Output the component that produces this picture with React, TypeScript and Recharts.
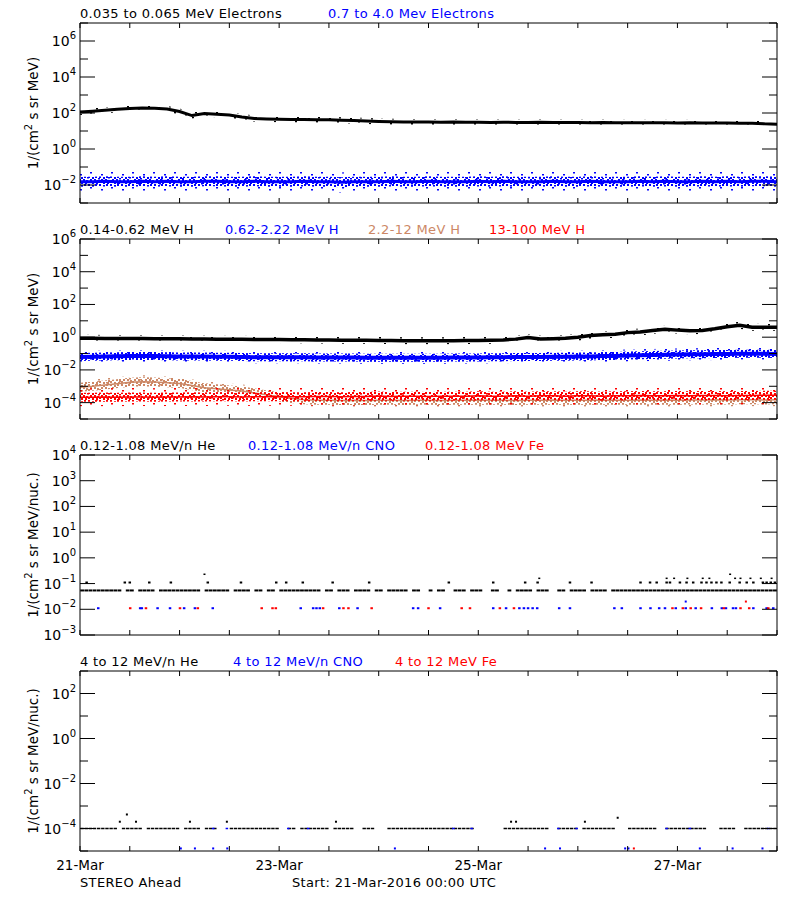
import React from 'react';
import { ComposedChart, Line, Scatter, XAxis, YAxis } from 'recharts';

// ─── Time grid (hours since 21-Mar-2016 00:00 UTC) ───────────────────────────

const HOURS = [
  0, 3, 6, 9, 12, 15, 18, 21, 24, 27,
  30, 33, 36, 39, 42, 45, 48, 51, 54, 57,
  60, 63, 66, 69, 72, 75, 78, 81, 84, 87,
  90, 93, 96, 99, 102, 105, 108, 111, 114, 117,
  120, 123, 126, 129, 132, 135, 138, 141, 144, 147,
  150, 153, 156, 159, 162, 165, 168,
];
const X_TICKS = [0, 12, 24, 36, 48, 60, 72, 84, 96, 108, 120, 132, 144, 156, 168];
const DATE_TICKS = [0, 48, 96, 144];
const DATE_LABELS = ['21-Mar', '23-Mar', '25-Mar', '27-Mar'];

// ─── Panel 1: electrons ───────────────────────────────────────────────────────

const E_LOW = [
  114, 125, 140, 160, 180, 188, 182, 166, 120, 72,
  95, 86, 78, 60, 50, 47, 45, 44, 43, 42,
  42, 40, 38, 36, 34, 33, 32, 32, 32, 31,
  32, 31, 31, 30, 31, 30, 30, 31, 30, 30,
  30, 29, 30, 29, 29, 29, 29, 29, 28, 29,
  28, 28, 28, 27, 27, 25, 24,
];
const E_HIGH = [
  0.015, 0.015, 0.016, 0.015, 0.015, 0.016, 0.015, 0.016, 0.015, 0.015,
  0.016, 0.016, 0.015, 0.015, 0.016, 0.015, 0.015, 0.015, 0.016, 0.015,
  0.015, 0.014, 0.015, 0.015, 0.015, 0.016, 0.015, 0.015, 0.016, 0.015,
  0.015, 0.015, 0.016, 0.015, 0.016, 0.015, 0.015, 0.015, 0.016, 0.015,
  0.015, 0.016, 0.015, 0.015, 0.015, 0.016, 0.015, 0.016, 0.015, 0.015,
  0.016, 0.015, 0.016, 0.015, 0.016, 0.016, 0.015,
];

// ─── Panel 2: protons ─────────────────────────────────────────────────────────

const H_LOW = [
  0.85, 0.85, 0.84, 0.83, 0.83, 0.82, 0.81, 0.8, 0.79, 0.78,
  0.77, 0.76, 0.75, 0.74, 0.73, 0.72, 0.71, 0.7, 0.69, 0.68,
  0.67, 0.66, 0.65, 0.64, 0.63, 0.62, 0.61, 0.61, 0.6, 0.6,
  0.61, 0.62, 0.63, 0.65, 0.68, 0.76, 0.95, 0.78, 0.8, 0.85,
  0.98, 1.25, 1.4, 1.5, 1.9, 2.1, 2.6, 3.1, 2.7, 2.5,
  2.6, 3.3, 4.4, 5.4, 4.1, 4.0, 4.0,
];
const H_MID = [
  0.062, 0.064, 0.066, 0.068, 0.07, 0.07, 0.07, 0.068, 0.066, 0.066,
  0.065, 0.064, 0.063, 0.062, 0.06, 0.06, 0.06, 0.06, 0.059, 0.058,
  0.058, 0.058, 0.057, 0.056, 0.056, 0.056, 0.055, 0.055, 0.056, 0.056,
  0.057, 0.058, 0.058, 0.06, 0.06, 0.061, 0.062, 0.062, 0.063, 0.064,
  0.066, 0.067, 0.07, 0.072, 0.075, 0.078, 0.082, 0.085, 0.088, 0.09,
  0.092, 0.094, 0.095, 0.096, 0.096, 0.096, 0.095,
];
const H_TAN = [
  8.7e-4, 1.0e-3, 1.2e-3, 1.45e-3, 1.75e-3, 1.9e-3, 1.8e-3, 1.65e-3, 1.5e-3, 1.1e-3,
  8.0e-4, 7.0e-4, 6.0e-4, 5.2e-4, 3.9e-4, 3.0e-4, 2.3e-4, 1.8e-4, 1.5e-4, 1.4e-4,
  1.4e-4, 1.35e-4, 1.4e-4, 1.35e-4, 1.4e-4, 1.4e-4, 1.35e-4, 1.4e-4, 1.4e-4, 1.35e-4,
  1.4e-4, 1.4e-4, 1.45e-4, 1.4e-4, 1.4e-4, 1.35e-4, 1.4e-4, 1.4e-4, 1.45e-4, 1.4e-4,
  1.4e-4, 1.4e-4, 1.45e-4, 1.4e-4, 1.4e-4, 1.45e-4, 1.4e-4, 1.45e-4, 1.4e-4, 1.45e-4,
  1.45e-4, 1.5e-4, 1.45e-4, 1.5e-4, 1.5e-4, 1.45e-4, 1.5e-4,
];
const H_RED = [
  2.1e-4, 2.1e-4, 2.2e-4, 2.1e-4, 2.2e-4, 2.2e-4, 2.1e-4, 2.2e-4, 2.2e-4, 2.3e-4,
  2.2e-4, 2.3e-4, 2.3e-4, 2.2e-4, 2.3e-4, 2.3e-4, 2.4e-4, 2.3e-4, 2.3e-4, 2.4e-4,
  2.4e-4, 2.3e-4, 2.4e-4, 2.4e-4, 2.5e-4, 2.4e-4, 2.5e-4, 2.5e-4, 2.4e-4, 2.5e-4,
  2.5e-4, 2.5e-4, 2.6e-4, 2.5e-4, 2.5e-4, 2.6e-4, 2.5e-4, 2.6e-4, 2.6e-4, 2.5e-4,
  2.6e-4, 2.6e-4, 2.5e-4, 2.6e-4, 2.6e-4, 2.7e-4, 2.6e-4, 2.6e-4, 2.7e-4, 2.6e-4,
  2.7e-4, 2.7e-4, 2.6e-4, 2.7e-4, 2.7e-4, 2.8e-4, 2.8e-4,
];

// ─── Panel 3: 0.12-1.08 MeV/n heavy ions (sparse counts) ─────────────────────

const HE3_BASE = 0.054;
const HE3_BASE_GAPS = [10, 13, 18, 29, 36, 41, 44, 47, 58, 61, 65, 70, 73, 79, 82, 83, 85, 88, 89, 93, 97, 98, 101, 102, 104, 109, 113, 114, 117, 122, 127];
const HE3_ONE = 0.11;
const HE3_ONE_HOURS = [1.6, 10.8, 12.0, 16.7, 21.9, 30.8, 38.8, 47.3, 49.7, 53.7, 60.9, 69.7, 88.9, 99.6, 107.3, 110.3, 118.1, 123.3, 135.1, 137.4, 139, 141.4, 142.2, 144.6, 146.2, 147.8, 149.8, 151, 152.2, 153.4, 154.6, 156.6, 159, 160.7, 162.3, 164.6, 165.5, 166.5, 167.5];
const HE3_TWO = 0.16;
const HE3_TWO_HOURS = [110.7, 141.4, 143.2, 146.4, 150.1, 151.7, 157.9, 159.2, 161.6, 164.1, 166.7];
const HE3_THREE = 0.23;
const HE3_THREE_HOURS = [30, 156.7];
const CNO3 = 0.011;
const CNO3_HOURS = [4.4, 14.5, 14.9, 18.7, 21.7, 25.1, 27.7, 32, 53.2, 56.2, 57, 57.8, 62.5, 66.9, 80.3, 81.5, 86.8, 99.6, 102.7, 105.9, 107.0, 108.0, 109.1, 110.2, 115.5, 118.1, 128.8, 130.6, 135.1, 137.5, 139.6, 141.0, 143.6, 146.0, 148.4, 152.3, 154.7, 155.7, 157.4, 158.1, 162.3, 165.5, 167.1];
const CNO3_TWO = 0.02;
const CNO3_TWO_HOURS = [146];
const FE3 = 0.011;
const FE3_HOURS = [12.1, 15.9, 24.1, 28.4, 43.8, 46.4, 47.2, 58.6, 63.5, 64.7, 70.3, 84, 92, 94, 101.2, 104.6, 142.8, 145.3, 147.2, 149.7, 155.2, 159.2, 161.3, 165.9];
const FE3_TWO = 0.02;
const FE3_TWO_HOURS = [160.5];

// ─── Panel 4: 4-12 MeV/n heavy ions ───────────────────────────────────────────

const HE4_BASE = 1e-4;
const HE4_BASE_GAPS = [9, 15, 24, 29, 33, 34, 35, 48, 49, 52, 60, 66, 67, 71, 72, 73, 95, 96, 97, 98, 99, 100, 101, 113, 114, 120, 129, 130, 131, 139, 140, 151, 152, 153, 158, 159];
const HE4_TWO = 2e-4;
const HE4_TWO_HOURS = [9.6, 13.5, 26.5, 35.4, 61.7, 103.9, 105.1, 121.7];
const HE4_THREE = 3e-4;
const HE4_THREE_HOURS = [129.6];
const HE4_FOUR = 4.2e-4;
const HE4_FOUR_HOURS = [11.3];
const CNO4_LOW = 1.3e-5;
const CNO4_LOW_HOURS = [24.3, 27.7, 32.1, 35.5, 75.9, 112.1, 115.7, 131.4, 132.2, 149.4, 157.3, 164.5];
const CNO4_BASE = 1e-4;
const CNO4_BASE_HOURS = [32.1, 35.4, 50.2, 55.0, 90, 94.4, 115.3, 119.7, 141.4, 147, 165.9];
const FE4_LOW = 1.3e-5;
const FE4_LOW_HOURS = [133.5];

// ─── Styling ──────────────────────────────────────────────────────────────────

const FONT = 'DejaVu Sans';
const BLACK = '#000000';
const BLUE = '#0000ff';
const TAN = '#cc8866';
const RED = '#ff0000';
const COLORS: Record<string, string> = { black: BLACK, blue: BLUE, tan: TAN, red: RED };

const DENSE_DOTS = [[0, 0], [4, 1], [7, 0], [2, 3], [6, 3], [9, 4], [0, 5], [4, 6], [8, 6]];
const SPARSE_DOTS = [[1, 1], [12, 3], [6, 7], [17, 9], [3, 12], [14, 13]];

// ─── Helpers ──────────────────────────────────────────────────────────────────

type Pt = { h: number; v: number };

function series(values: number[]): Pt[] {
  return HOURS.map((h, i) => ({ h, v: values[i] }));
}

function level(hours: number[], v: number): Pt[] {
  return hours.map((h) => ({ h, v }));
}

function hourly(gaps: number[], v: number): Pt[] {
  const out: Pt[] = [];
  for (let h = 0; h < 168; h++) {
    if (!gaps.includes(h)) out.push({ h: h + 0.5, v });
  }
  return out;
}

function dash(color: string, w: number, hgt: number) {
  return (props: any) =>
    props.cx == null ? <g /> : (
      <rect x={props.cx - w / 2} y={props.cy - hgt / 2} width={w} height={hgt} fill={color} />
    );
}

function decades(lo: number, hi: number): number[] {
  const out: number[] = [];
  for (let e = lo; e <= hi; e++) out.push(Math.pow(10, e));
  return out;
}

// ─── Ticks ────────────────────────────────────────────────────────────────────

function LeftTick(props: any) {
  const { x, y, payload, labeled } = props;
  const exp = Math.round(Math.log10(payload.value));
  const major = labeled.includes(exp);
  return (
    <g>
      <line x1={x} x2={x + (major ? 15 : 8)} y1={y} y2={y} stroke={BLACK} />
      {major && (
        <text x={x - 4} y={y + 5} textAnchor="end" fontFamily={FONT} fontSize={14} fill={BLACK}>
          10
          <tspan dy={-7} fontSize={10}>{exp < 0 ? `\u2212${-exp}` : `${exp}`}</tspan>
        </text>
      )}
    </g>
  );
}

function RightTick(props: any) {
  const { x, y, payload, labeled } = props;
  const exp = Math.round(Math.log10(payload.value));
  const major = labeled.includes(exp);
  return <line x1={x} x2={x - (major ? 15 : 8)} y1={y} y2={y} stroke={BLACK} />;
}

function BottomTick(props: any) {
  const { x, y, payload, dates } = props;
  const idx = DATE_TICKS.indexOf(payload.value);
  return (
    <g>
      <line x1={x} x2={x} y1={y} y2={y - 5} stroke={BLACK} />
      {dates && idx >= 0 && (
        <text x={x} y={y + 19} textAnchor="middle" fontFamily={FONT} fontSize={13.5} fill={BLACK}>
          {DATE_LABELS[idx]}
        </text>
      )}
    </g>
  );
}

function TopTick(props: any) {
  const { x, y } = props;
  return <line x1={x} x2={x} y1={y} y2={y + 5} stroke={BLACK} />;
}

// ─── Panel frame ──────────────────────────────────────────────────────────────

interface Title {
  text: string;
  x: number;
  color: string;
}

interface PanelProps {
  top: number;
  height: number;
  expLo: number;
  expHi: number;
  labeled: number[];
  titles: Title[];
  unit: string;
  dates?: boolean;
  children: React.ReactNode;
}

function Panel({ top, height, expLo, expHi, labeled, titles, unit, dates, children }: PanelProps) {
  const domain: [number, number] = [Math.pow(10, expLo), Math.pow(10, expHi)];
  const ticks = decades(expLo, expHi);
  return (
    <div style={{ position: 'absolute', left: 0, top, width: 800, height }}>
      <ComposedChart
        width={800}
        height={height}
        margin={{ top: 13, left: 20, right: 13, bottom: height - 213 }}
      >
        <XAxis
          xAxisId="b"
          type="number"
          dataKey="h"
          domain={[0, 168]}
          ticks={X_TICKS}
          interval={0}
          allowDataOverflow
          height={10}
          tickSize={0}
          tickMargin={0}
          tickLine={false}
          axisLine={{ stroke: BLACK }}
          tick={(p: any) => <BottomTick {...p} dates={dates} />}
        />
        <XAxis
          xAxisId="t"
          orientation="top"
          type="number"
          dataKey="h"
          domain={[0, 168]}
          ticks={X_TICKS}
          interval={0}
          allowDataOverflow
          height={10}
          tickSize={0}
          tickMargin={0}
          tickLine={false}
          axisLine={{ stroke: BLACK }}
          tick={(p: any) => <TopTick {...p} />}
        />
        <YAxis
          yAxisId="l"
          scale="log"
          domain={domain}
          ticks={ticks}
          interval={0}
          allowDataOverflow
          width={60}
          tickSize={0}
          tickMargin={0}
          tickLine={false}
          axisLine={{ stroke: BLACK }}
          tick={(p: any) => <LeftTick {...p} labeled={labeled} />}
        />
        <YAxis
          yAxisId="r"
          orientation="right"
          scale="log"
          domain={domain}
          ticks={ticks}
          interval={0}
          allowDataOverflow
          width={10}
          tickSize={0}
          tickMargin={0}
          tickLine={false}
          axisLine={{ stroke: BLACK }}
          tick={(p: any) => <RightTick {...p} labeled={labeled} />}
        />
        {children}
        {titles.map((t) => (
          <text key={t.text} x={t.x} y={18} fontFamily={FONT} fontSize={13} letterSpacing={0.35} fill={t.color}>
            {t.text}
          </text>
        ))}
        <text
          x={38}
          y={113}
          transform="rotate(-90 38 113)"
          textAnchor="middle"
          fontFamily={FONT}
          fontSize={13.5}
          fill={BLACK}
        >
          1/(cm
          <tspan dy={-6} fontSize={10}>2</tspan>
          <tspan dy={6}>{` s sr ${unit})`}</tspan>
        </text>
        {dates && (
          <>
            <text x={80} y={239} fontFamily={FONT} fontSize={13} letterSpacing={0.35} fill={BLACK}>
              STEREO Ahead
            </text>
            <text x={292} y={239} fontFamily={FONT} fontSize={13} letterSpacing={0.35} fill={BLACK}>
              Start: 21-Mar-2016 00:00 UTC
            </text>
          </>
        )}
      </ComposedChart>
    </div>
  );
}

// ─── Series helpers ───────────────────────────────────────────────────────────

function Band({ data, color, core, dense, sparse }: { data: Pt[]; color: string; core: number; dense: number; sparse: number }) {
  return (
    <>
      {sparse > 0 && (
        <Line xAxisId="b" yAxisId="l" data={data} dataKey="v" stroke={`url(#spk-sparse-${color})`} strokeWidth={sparse}
          dot={false} activeDot={false} isAnimationActive={false} />
      )}
      {dense > 0 && (
        <Line xAxisId="b" yAxisId="l" data={data} dataKey="v" stroke={`url(#spk-dense-${color})`} strokeWidth={dense}
          dot={false} activeDot={false} isAnimationActive={false} />
      )}
      {core > 0 && (
        <Line xAxisId="b" yAxisId="l" data={data} dataKey="v" stroke={COLORS[color]} strokeWidth={core}
          dot={false} activeDot={false} isAnimationActive={false} />
      )}
    </>
  );
}

function Dots({ data, color, w, h }: { data: Pt[]; color: string; w: number; h: number }) {
  return (
    <Scatter xAxisId="b" yAxisId="l" data={data} dataKey="v" shape={dash(color, w, h)} isAnimationActive={false} />
  );
}

// ─── Patterns ─────────────────────────────────────────────────────────────────

function Patterns() {
  return (
    <svg width={0} height={0} style={{ position: 'absolute' }}>
      <defs>
        {Object.keys(COLORS).map((name) => (
          <React.Fragment key={name}>
            <pattern id={`spk-dense-${name}`} patternUnits="userSpaceOnUse" width={11} height={8}>
              {DENSE_DOTS.map(([px, py], i) => (
                <rect key={i} x={px} y={py} width={2} height={2} fill={COLORS[name]} />
              ))}
            </pattern>
            <pattern id={`spk-sparse-${name}`} patternUnits="userSpaceOnUse" width={21} height={15}>
              {SPARSE_DOTS.map(([px, py], i) => (
                <rect key={i} x={px} y={py} width={2} height={1.5} fill={COLORS[name]} />
              ))}
            </pattern>
          </React.Fragment>
        ))}
      </defs>
    </svg>
  );
}

// ─── Component ────────────────────────────────────────────────────────────────

export default function App(): React.ReactElement {
  return (
    <div style={{ position: 'absolute', left: 0, top: 0, width: 800, height: 900, background: '#ffffff' }}>
      <Patterns />

      <Panel
        top={0}
        height={216}
        expLo={-3}
        expHi={7}
        labeled={[6, 4, 2, 0, -2]}
        unit="MeV"
        titles={[
          { text: '0.035 to 0.065 MeV Electrons', x: 80, color: BLACK },
          { text: '0.7 to 4.0 Mev Electrons', x: 328, color: BLUE },
        ]}
      >
        <Band data={series(E_LOW)} color="black" core={3} dense={0} sparse={6} />
        <Band data={series(E_HIGH)} color="blue" core={3} dense={10} sparse={20} />
      </Panel>

      <Panel
        top={216}
        height={216}
        expLo={-5}
        expHi={6}
        labeled={[6, 4, 2, 0, -2, -4]}
        unit="MeV"
        titles={[
          { text: '0.14-0.62 MeV H', x: 80, color: BLACK },
          { text: '0.62-2.22 MeV H', x: 225, color: BLUE },
          { text: '2.2-12 MeV H', x: 368, color: TAN },
          { text: '13-100 MeV H', x: 489, color: RED },
        ]}
      >
        <Band data={series(H_LOW)} color="black" core={3.5} dense={0} sparse={7} />
        <Band data={series(H_MID)} color="blue" core={4} dense={8} sparse={12} />
        <Band data={series(H_TAN)} color="tan" core={1.5} dense={9} sparse={13} />
        <Band data={series(H_RED)} color="red" core={1.5} dense={9} sparse={18} />
      </Panel>

      <Panel
        top={432}
        height={216}
        expLo={-3}
        expHi={4}
        labeled={[4, 3, 2, 1, 0, -1, -2, -3]}
        unit="MeV/nuc."
        titles={[
          { text: '0.12-1.08 MeV/n He', x: 80, color: BLACK },
          { text: '0.12-1.08 MeV/n CNO', x: 248, color: BLUE },
          { text: '0.12-1.08 MeV Fe', x: 425, color: RED },
        ]}
      >
        <Dots data={hourly(HE3_BASE_GAPS, HE3_BASE)} color={BLACK} w={3.8} h={2} />
        <Dots data={level(HE3_ONE_HOURS, HE3_ONE)} color={BLACK} w={2.5} h={2} />
        <Dots data={level(HE3_TWO_HOURS, HE3_TWO)} color={BLACK} w={2} h={1.5} />
        <Dots data={level(HE3_THREE_HOURS, HE3_THREE)} color={BLACK} w={2} h={1.5} />
        <Dots data={level(CNO3_HOURS, CNO3)} color={BLUE} w={2.5} h={2} />
        <Dots data={level(CNO3_TWO_HOURS, CNO3_TWO)} color={BLUE} w={2} h={2} />
        <Dots data={level(FE3_HOURS, FE3)} color={RED} w={2.5} h={2} />
        <Dots data={level(FE3_TWO_HOURS, FE3_TWO)} color={RED} w={2} h={2} />
      </Panel>

      <Panel
        top={648}
        height={252}
        expLo={-5}
        expHi={3}
        labeled={[2, 0, -2, -4]}
        unit="MeV/nuc."
        dates
        titles={[
          { text: '4 to 12 MeV/n He', x: 80, color: BLACK },
          { text: '4 to 12 MeV/n CNO', x: 233, color: BLUE },
          { text: '4 to 12 MeV Fe', x: 395, color: RED },
        ]}
      >
        <Dots data={hourly(HE4_BASE_GAPS, HE4_BASE)} color={BLACK} w={3.4} h={1.5} />
        <Dots data={level(HE4_TWO_HOURS, HE4_TWO)} color={BLACK} w={2} h={2} />
        <Dots data={level(HE4_THREE_HOURS, HE4_THREE)} color={BLACK} w={2} h={2} />
        <Dots data={level(HE4_FOUR_HOURS, HE4_FOUR)} color={BLACK} w={2} h={2} />
        <Dots data={level(CNO4_BASE_HOURS, CNO4_BASE)} color={BLUE} w={2.5} h={1.5} />
        <Dots data={level(CNO4_LOW_HOURS, CNO4_LOW)} color={BLUE} w={2} h={2} />
        <Dots data={level(FE4_LOW_HOURS, FE4_LOW)} color={RED} w={2} h={2} />
      </Panel>
    </div>
  );
}
